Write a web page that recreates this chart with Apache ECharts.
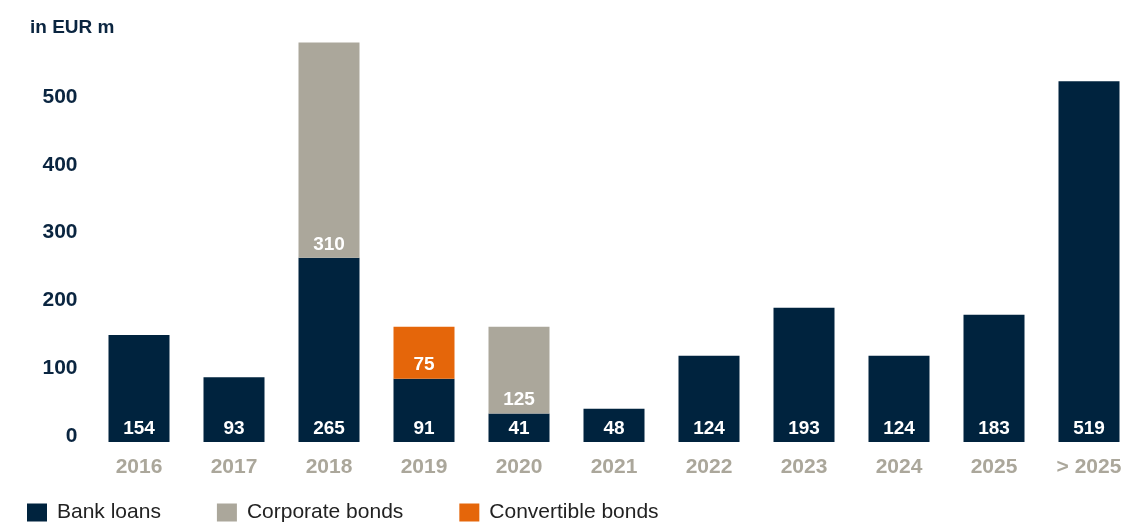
<!DOCTYPE html>
<html><head><meta charset="utf-8">
<script src="https://cdn.jsdelivr.net/npm/echarts@6/dist/echarts.min.js"></script>
<style>html,body{margin:0;padding:0;background:#fff;overflow:hidden}#c{width:1140px;height:522px}</style>
</head><body><div id="c"></div>
<script>
const categories = ['2016','2017','2018','2019','2020','2021','2022','2023','2024','2025','> 2025'];
const bankLoans = [154,93,265,91,41,48,124,193,124,183,519];
const corporateBonds = [null,null,310,null,125,null,null,null,null,null,null];
const convertibleBonds = [null,null,null,75,null,null,null,null,null,null,null];
const yTickLabels = [0,100,200,300,400,500];

const NAVY = '#00233e', GRAY = '#aba79b', ORANGE = '#e5660a';
const FONT = '"Liberation Sans",Arial,Helvetica,sans-serif';
const chart = echarts.init(document.getElementById('c'), null, {renderer:'canvas'});
const lbl = {show:true, position:'insideBottom', distance:4, color:'#fff', fontFamily:FONT, fontWeight:'bold', fontSize:19};
chart.setOption({
  animation:false,
  title:{text:'in EUR m', left:25, top:13, textStyle:{fontFamily:FONT, fontWeight:'bold', fontSize:19, color:'#0a2540'}},
  legend:{left:27, top:502, padding:0, itemWidth:20, itemHeight:18, itemGap:56, icon:'rect',
    textStyle:{fontFamily:FONT, fontSize:21, color:'#222', padding:[0,0,0,5]},
    data:['Bank loans','Corporate bonds','Convertible bonds']},
  grid:{left:91.5, width:1045, top:25, bottom:80, containLabel:false},
  xAxis:{type:'category', data:categories, axisLine:{show:false}, axisTick:{show:false},
    axisLabel:{interval:0, margin:15, color:GRAY, fontFamily:FONT, fontWeight:'bold', fontSize:21}},
  yAxis:[
    {type:'value', min:0, max:600, show:false, splitLine:{show:false}},
    {type:'value', min:-8.85, max:606.2, position:'left', splitLine:{show:false}, axisLine:{show:false}, axisTick:{show:false},
     axisLabel:{customValues:yTickLabels, margin:14, color:'#0a2540', fontFamily:FONT, fontWeight:'bold', fontSize:21}}
  ],
  series:[
    {name:'Bank loans', type:'bar', stack:'s', data:bankLoans, barWidth:61, itemStyle:{color:NAVY}, label:lbl},
    {name:'Corporate bonds', type:'bar', stack:'s', data:corporateBonds, barWidth:61, itemStyle:{color:GRAY}, label:lbl},
    {name:'Convertible bonds', type:'bar', stack:'s', data:convertibleBonds, barWidth:61, itemStyle:{color:ORANGE}, label:lbl}
  ]
});
</script></body></html>
